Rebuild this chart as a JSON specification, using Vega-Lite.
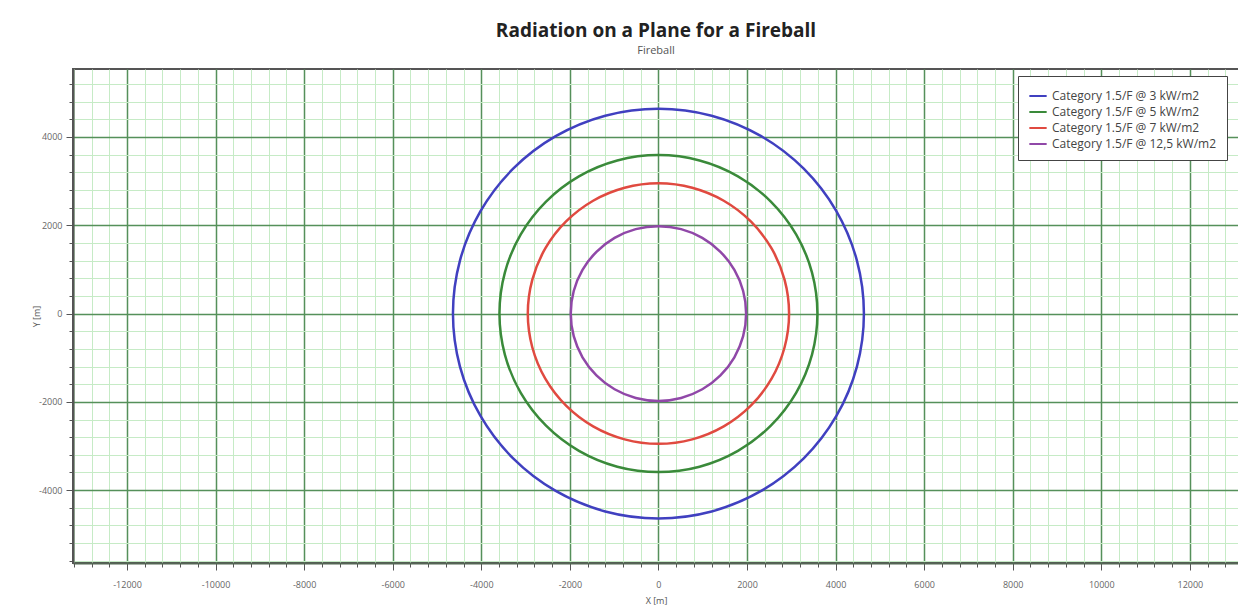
{
  "$schema": "https://vega.github.io/schema/vega-lite/v6.json",
  "width": 1166,
  "height": 494,
  "autosize": {"type": "none"},
  "padding": {"left": 73, "top": 69, "right": 0, "bottom": 45},
  "background": "white",
  "config": {
    "font": "Open Sans",
    "view": {"stroke": "#555555", "strokeWidth": 2},
    "axis": {"labelFont": "Open Sans", "titleFont": "Open Sans"}
  },
  "title": {
    "text": "Radiation on a Plane for a Fireball",
    "subtitle": "Fireball",
    "anchor": "middle",
    "fontSize": 19,
    "fontWeight": "bold",
    "color": "#222222",
    "subtitleFontSize": 11,
    "subtitleColor": "#555555",
    "subtitlePadding": 4,
    "offset": 13
  },
  "data": {
    "values": [
      {"c": "Category 1.5/F @ 3 kW/m2", "i": 0, "x": 4640, "y": 0},
      {"c": "Category 1.5/F @ 3 kW/m2", "i": 1, "x": 4482, "y": 1201},
      {"c": "Category 1.5/F @ 3 kW/m2", "i": 2, "x": 4018, "y": 2320},
      {"c": "Category 1.5/F @ 3 kW/m2", "i": 3, "x": 3281, "y": 3281},
      {"c": "Category 1.5/F @ 3 kW/m2", "i": 4, "x": 2320, "y": 4018},
      {"c": "Category 1.5/F @ 3 kW/m2", "i": 5, "x": 1201, "y": 4482},
      {"c": "Category 1.5/F @ 3 kW/m2", "i": 6, "x": 0, "y": 4640},
      {"c": "Category 1.5/F @ 3 kW/m2", "i": 7, "x": -1201, "y": 4482},
      {"c": "Category 1.5/F @ 3 kW/m2", "i": 8, "x": -2320, "y": 4018},
      {"c": "Category 1.5/F @ 3 kW/m2", "i": 9, "x": -3281, "y": 3281},
      {"c": "Category 1.5/F @ 3 kW/m2", "i": 10, "x": -4018, "y": 2320},
      {"c": "Category 1.5/F @ 3 kW/m2", "i": 11, "x": -4482, "y": 1201},
      {"c": "Category 1.5/F @ 3 kW/m2", "i": 12, "x": -4640, "y": 0},
      {"c": "Category 1.5/F @ 3 kW/m2", "i": 13, "x": -4482, "y": -1201},
      {"c": "Category 1.5/F @ 3 kW/m2", "i": 14, "x": -4018, "y": -2320},
      {"c": "Category 1.5/F @ 3 kW/m2", "i": 15, "x": -3281, "y": -3281},
      {"c": "Category 1.5/F @ 3 kW/m2", "i": 16, "x": -2320, "y": -4018},
      {"c": "Category 1.5/F @ 3 kW/m2", "i": 17, "x": -1201, "y": -4482},
      {"c": "Category 1.5/F @ 3 kW/m2", "i": 18, "x": 0, "y": -4640},
      {"c": "Category 1.5/F @ 3 kW/m2", "i": 19, "x": 1201, "y": -4482},
      {"c": "Category 1.5/F @ 3 kW/m2", "i": 20, "x": 2320, "y": -4018},
      {"c": "Category 1.5/F @ 3 kW/m2", "i": 21, "x": 3281, "y": -3281},
      {"c": "Category 1.5/F @ 3 kW/m2", "i": 22, "x": 4018, "y": -2320},
      {"c": "Category 1.5/F @ 3 kW/m2", "i": 23, "x": 4482, "y": -1201},

      {"c": "Category 1.5/F @ 5 kW/m2", "i": 0, "x": 3590, "y": 0},
      {"c": "Category 1.5/F @ 5 kW/m2", "i": 1, "x": 3468, "y": 929},
      {"c": "Category 1.5/F @ 5 kW/m2", "i": 2, "x": 3109, "y": 1795},
      {"c": "Category 1.5/F @ 5 kW/m2", "i": 3, "x": 2538, "y": 2538},
      {"c": "Category 1.5/F @ 5 kW/m2", "i": 4, "x": 1795, "y": 3109},
      {"c": "Category 1.5/F @ 5 kW/m2", "i": 5, "x": 929, "y": 3468},
      {"c": "Category 1.5/F @ 5 kW/m2", "i": 6, "x": 0, "y": 3590},
      {"c": "Category 1.5/F @ 5 kW/m2", "i": 7, "x": -929, "y": 3468},
      {"c": "Category 1.5/F @ 5 kW/m2", "i": 8, "x": -1795, "y": 3109},
      {"c": "Category 1.5/F @ 5 kW/m2", "i": 9, "x": -2538, "y": 2538},
      {"c": "Category 1.5/F @ 5 kW/m2", "i": 10, "x": -3109, "y": 1795},
      {"c": "Category 1.5/F @ 5 kW/m2", "i": 11, "x": -3468, "y": 929},
      {"c": "Category 1.5/F @ 5 kW/m2", "i": 12, "x": -3590, "y": 0},
      {"c": "Category 1.5/F @ 5 kW/m2", "i": 13, "x": -3468, "y": -929},
      {"c": "Category 1.5/F @ 5 kW/m2", "i": 14, "x": -3109, "y": -1795},
      {"c": "Category 1.5/F @ 5 kW/m2", "i": 15, "x": -2538, "y": -2538},
      {"c": "Category 1.5/F @ 5 kW/m2", "i": 16, "x": -1795, "y": -3109},
      {"c": "Category 1.5/F @ 5 kW/m2", "i": 17, "x": -929, "y": -3468},
      {"c": "Category 1.5/F @ 5 kW/m2", "i": 18, "x": 0, "y": -3590},
      {"c": "Category 1.5/F @ 5 kW/m2", "i": 19, "x": 929, "y": -3468},
      {"c": "Category 1.5/F @ 5 kW/m2", "i": 20, "x": 1795, "y": -3109},
      {"c": "Category 1.5/F @ 5 kW/m2", "i": 21, "x": 2538, "y": -2538},
      {"c": "Category 1.5/F @ 5 kW/m2", "i": 22, "x": 3109, "y": -1795},
      {"c": "Category 1.5/F @ 5 kW/m2", "i": 23, "x": 3468, "y": -929},

      {"c": "Category 1.5/F @ 7 kW/m2", "i": 0, "x": 2950, "y": 0},
      {"c": "Category 1.5/F @ 7 kW/m2", "i": 1, "x": 2849, "y": 763},
      {"c": "Category 1.5/F @ 7 kW/m2", "i": 2, "x": 2555, "y": 1475},
      {"c": "Category 1.5/F @ 7 kW/m2", "i": 3, "x": 2086, "y": 2086},
      {"c": "Category 1.5/F @ 7 kW/m2", "i": 4, "x": 1475, "y": 2555},
      {"c": "Category 1.5/F @ 7 kW/m2", "i": 5, "x": 763, "y": 2849},
      {"c": "Category 1.5/F @ 7 kW/m2", "i": 6, "x": 0, "y": 2950},
      {"c": "Category 1.5/F @ 7 kW/m2", "i": 7, "x": -763, "y": 2849},
      {"c": "Category 1.5/F @ 7 kW/m2", "i": 8, "x": -1475, "y": 2555},
      {"c": "Category 1.5/F @ 7 kW/m2", "i": 9, "x": -2086, "y": 2086},
      {"c": "Category 1.5/F @ 7 kW/m2", "i": 10, "x": -2555, "y": 1475},
      {"c": "Category 1.5/F @ 7 kW/m2", "i": 11, "x": -2849, "y": 763},
      {"c": "Category 1.5/F @ 7 kW/m2", "i": 12, "x": -2950, "y": 0},
      {"c": "Category 1.5/F @ 7 kW/m2", "i": 13, "x": -2849, "y": -763},
      {"c": "Category 1.5/F @ 7 kW/m2", "i": 14, "x": -2555, "y": -1475},
      {"c": "Category 1.5/F @ 7 kW/m2", "i": 15, "x": -2086, "y": -2086},
      {"c": "Category 1.5/F @ 7 kW/m2", "i": 16, "x": -1475, "y": -2555},
      {"c": "Category 1.5/F @ 7 kW/m2", "i": 17, "x": -763, "y": -2849},
      {"c": "Category 1.5/F @ 7 kW/m2", "i": 18, "x": 0, "y": -2950},
      {"c": "Category 1.5/F @ 7 kW/m2", "i": 19, "x": 763, "y": -2849},
      {"c": "Category 1.5/F @ 7 kW/m2", "i": 20, "x": 1475, "y": -2555},
      {"c": "Category 1.5/F @ 7 kW/m2", "i": 21, "x": 2086, "y": -2086},
      {"c": "Category 1.5/F @ 7 kW/m2", "i": 22, "x": 2555, "y": -1475},
      {"c": "Category 1.5/F @ 7 kW/m2", "i": 23, "x": 2849, "y": -763},

      {"c": "Category 1.5/F @ 12,5 kW/m2", "i": 0, "x": 1980, "y": 0},
      {"c": "Category 1.5/F @ 12,5 kW/m2", "i": 1, "x": 1913, "y": 512},
      {"c": "Category 1.5/F @ 12,5 kW/m2", "i": 2, "x": 1715, "y": 990},
      {"c": "Category 1.5/F @ 12,5 kW/m2", "i": 3, "x": 1400, "y": 1400},
      {"c": "Category 1.5/F @ 12,5 kW/m2", "i": 4, "x": 990, "y": 1715},
      {"c": "Category 1.5/F @ 12,5 kW/m2", "i": 5, "x": 512, "y": 1913},
      {"c": "Category 1.5/F @ 12,5 kW/m2", "i": 6, "x": 0, "y": 1980},
      {"c": "Category 1.5/F @ 12,5 kW/m2", "i": 7, "x": -512, "y": 1913},
      {"c": "Category 1.5/F @ 12,5 kW/m2", "i": 8, "x": -990, "y": 1715},
      {"c": "Category 1.5/F @ 12,5 kW/m2", "i": 9, "x": -1400, "y": 1400},
      {"c": "Category 1.5/F @ 12,5 kW/m2", "i": 10, "x": -1715, "y": 990},
      {"c": "Category 1.5/F @ 12,5 kW/m2", "i": 11, "x": -1913, "y": 512},
      {"c": "Category 1.5/F @ 12,5 kW/m2", "i": 12, "x": -1980, "y": 0},
      {"c": "Category 1.5/F @ 12,5 kW/m2", "i": 13, "x": -1913, "y": -512},
      {"c": "Category 1.5/F @ 12,5 kW/m2", "i": 14, "x": -1715, "y": -990},
      {"c": "Category 1.5/F @ 12,5 kW/m2", "i": 15, "x": -1400, "y": -1400},
      {"c": "Category 1.5/F @ 12,5 kW/m2", "i": 16, "x": -990, "y": -1715},
      {"c": "Category 1.5/F @ 12,5 kW/m2", "i": 17, "x": -512, "y": -1913},
      {"c": "Category 1.5/F @ 12,5 kW/m2", "i": 18, "x": 0, "y": -1980},
      {"c": "Category 1.5/F @ 12,5 kW/m2", "i": 19, "x": 512, "y": -1913},
      {"c": "Category 1.5/F @ 12,5 kW/m2", "i": 20, "x": 990, "y": -1715},
      {"c": "Category 1.5/F @ 12,5 kW/m2", "i": 21, "x": 1400, "y": -1400},
      {"c": "Category 1.5/F @ 12,5 kW/m2", "i": 22, "x": 1715, "y": -990},
      {"c": "Category 1.5/F @ 12,5 kW/m2", "i": 23, "x": 1913, "y": -512}
    ]
  },
  "mark": {"type": "line", "interpolate": "cardinal-closed", "strokeWidth": 2.5, "clip": true},
  "encoding": {
    "x": {
      "field": "x",
      "type": "quantitative",
      "scale": {"domain": [-13220, 13110], "nice": false, "zero": false},
      "axis": {
        "title": "X [m]",
        "titleFontSize": 9,
        "titleFontWeight": "normal",
        "titleColor": "#555555",
        "titlePadding": 7,
        "values": [-13200,-12800,-12400,-12000,-11600,-11200,-10800,-10400,-10000,-9600,-9200,-8800,-8400,-8000,-7600,-7200,-6800,-6400,-6000,-5600,-5200,-4800,-4400,-4000,-3600,-3200,-2800,-2400,-2000,-1600,-1200,-800,-400,0,400,800,1200,1600,2000,2400,2800,3200,3600,4000,4400,4800,5200,5600,6000,6400,6800,7200,7600,8000,8400,8800,9200,9600,10000,10400,10800,11200,11600,12000,12400,12800],
        "labelExpr": "datum.value % 2000 === 0 ? '' + datum.value : ''",
        "labelOverlap": false,
        "labelFontSize": 9,
        "labelColor": "#666666",
        "labelPadding": 10,
        "grid": true,
        "gridColor": {"condition": {"test": "datum.value % 2000 === 0", "value": "#55905a"}, "value": "#c6ebc6"},
        "gridWidth": {"condition": {"test": "datum.value % 2000 === 0", "value": 1.5}, "value": 1},
        "tickColor": "#555555",
        "tickSize": {"condition": {"test": "datum.value % 2000 === 0", "value": 7}, "value": 4},
        "domainColor": "#556655",
        "domainWidth": 2
      }
    },
    "y": {
      "field": "y",
      "type": "quantitative",
      "scale": {"domain": [-5650, 5540], "nice": false, "zero": false},
      "axis": {
        "title": "Y [m]",
        "titleFontSize": 9,
        "titleFontWeight": "normal",
        "titleColor": "#555555",
        "titlePadding": -3,
        "values": [-5600,-5200,-4800,-4400,-4000,-3600,-3200,-2800,-2400,-2000,-1600,-1200,-800,-400,0,400,800,1200,1600,2000,2400,2800,3200,3600,4000,4400,4800,5200],
        "labelExpr": "datum.value % 2000 === 0 ? '' + datum.value : ''",
        "labelOverlap": false,
        "labelFontSize": 9,
        "labelColor": "#666666",
        "labelPadding": 4,
        "grid": true,
        "gridColor": {"condition": {"test": "datum.value % 2000 === 0", "value": "#55905a"}, "value": "#c6ebc6"},
        "gridWidth": {"condition": {"test": "datum.value % 2000 === 0", "value": 1.5}, "value": 1},
        "tickColor": "#555555",
        "tickSize": {"condition": {"test": "datum.value % 2000 === 0", "value": 7}, "value": 4},
        "domainColor": "#555555",
        "domainWidth": 2
      }
    },
    "color": {
      "field": "c",
      "type": "nominal",
      "scale": {
        "domain": ["Category 1.5/F @ 3 kW/m2", "Category 1.5/F @ 5 kW/m2", "Category 1.5/F @ 7 kW/m2", "Category 1.5/F @ 12,5 kW/m2"],
        "range": ["#4040c0", "#3a8a3a", "#e04a40", "#9048a8"]
      },
      "legend": {
        "title": null,
        "orient": "none",
        "legendX": 945,
        "legendY": 7,
        "padding": 10,
        "strokeColor": "#444444",
        "fillColor": "white",
        "symbolType": "stroke",
        "symbolStrokeWidth": 2,
        "symbolSize": 300,
        "labelFontSize": 12,
        "labelColor": "#444444",
        "labelLimit": 300,
        "rowPadding": 0,
        "labelOffset": 4
      }
    },
    "order": {"field": "i", "type": "quantitative"}
  }
}
